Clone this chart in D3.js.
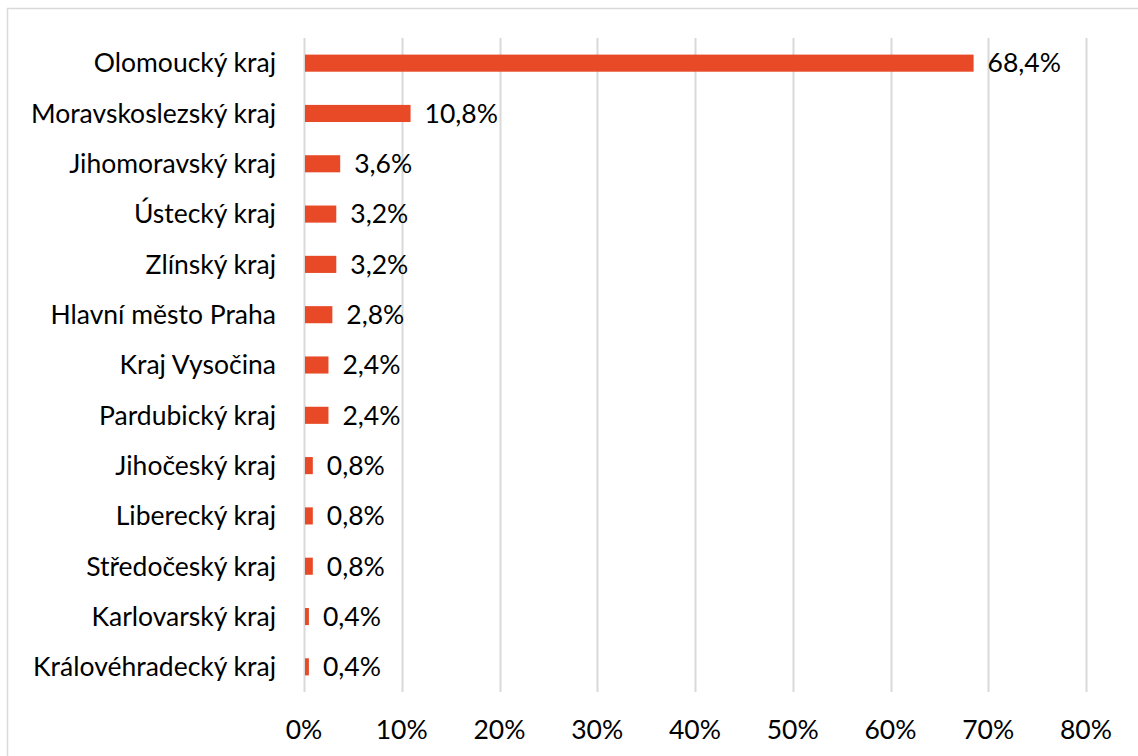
<!DOCTYPE html>
<html><head><meta charset="utf-8">
<script src="https://cdn.jsdelivr.net/npm/d3@7"></script>
<style>
html,body{margin:0;padding:0;background:#fff;}
svg{display:block;font-family:Lato, "Open Sans", sans-serif;}
</style></head>
<body><svg id="c" width="1138" height="756"></svg>
<script>
const categories = ["Olomoucký kraj","Moravskoslezský kraj","Jihomoravský kraj","Ústecký kraj","Zlínský kraj","Hlavní město Praha","Kraj Vysočina","Pardubický kraj","Jihočeský kraj","Liberecký kraj","Středočeský kraj","Karlovarský kraj","Královéhradecký kraj"];
const values = [68.4,10.8,3.6,3.2,3.2,2.8,2.4,2.4,0.8,0.8,0.8,0.4,0.4];
const valueLabels = ["68,4%","10,8%","3,6%","3,2%","3,2%","2,8%","2,4%","2,4%","0,8%","0,8%","0,8%","0,4%","0,4%"];
const ticks = [0,10,20,30,40,50,60,70,80];
const tickLabels = ["0%","10%","20%","30%","40%","50%","60%","70%","80%"];

const svg = d3.select("#c");
svg.append("rect").attr("x",7.5).attr("y",8.5).attr("width",1140).attr("height",760)
  .attr("fill","#fff").attr("stroke","#d9d9d9").attr("stroke-width",1.5);

const x = d3.scaleLinear().domain([0,80]).range([304,1086]);
const y = d3.scaleBand().domain(categories).range([38,692]).paddingInner(0.66).paddingOuter(0.33);

svg.append("g").selectAll("line").data(ticks).join("line")
  .attr("x1",d=>Math.round(x(d))+0.5).attr("x2",d=>Math.round(x(d))+0.5)
  .attr("y1",38).attr("y2",692).attr("stroke","#d9d9d9").attr("stroke-width",2);

svg.append("g").selectAll("rect").data(values).join("rect")
  .attr("x",x(0)+1).attr("y",(d,i)=>y(categories[i]))
  .attr("width",d=>x(d)-x(0)).attr("height",y.bandwidth())
  .attr("fill","#e84a27");

svg.append("g").selectAll("text").data(valueLabels).join("text")
  .attr("x",(d,i)=>x(values[i])+15).attr("y",(d,i)=>y(categories[i])+y.bandwidth()/2)
  .attr("dy","0.35em").attr("font-size",26.5).attr("fill","#000").text(d=>d);

svg.append("g").selectAll("text").data(categories).join("text")
  .attr("x",276).attr("y",d=>y(d)+y.bandwidth()/2).attr("dy","0.35em")
  .attr("text-anchor","end").attr("font-size",26.5).attr("fill","#000").text(d=>d);

svg.append("g").selectAll("text").data(ticks).join("text")
  .attr("x",d=>x(d)).attr("y",730).attr("dy","0.35em").attr("text-anchor","middle")
  .attr("font-size",26.5).attr("fill","#000").text((d,i)=>tickLabels[i]);
</script></body></html>
